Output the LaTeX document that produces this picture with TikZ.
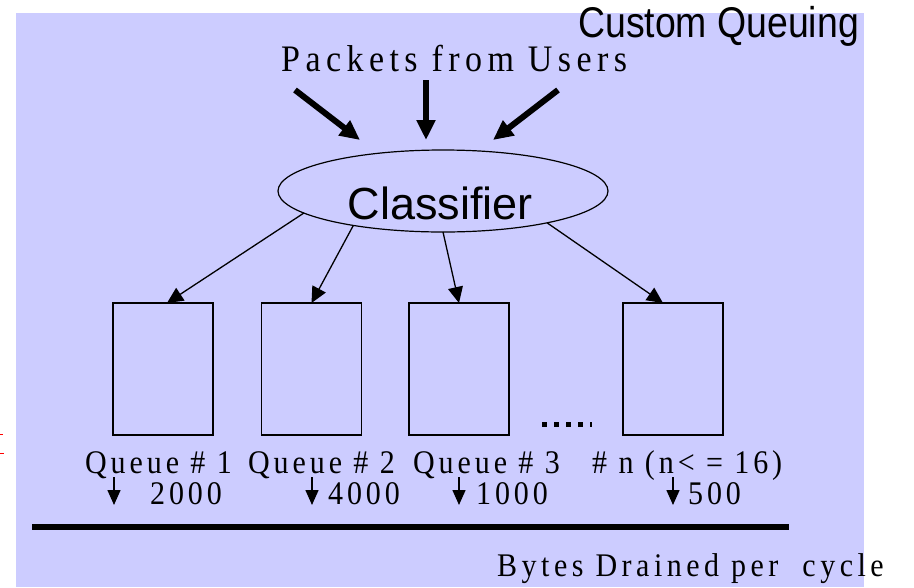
\documentclass[tikz,border=0pt]{standalone}
\usepackage{graphicx}
\usepackage{fontspec}
\setmainfont{Liberation Serif}
\setsansfont{Liberation Sans}
\newfontfamily\spacedserif[LetterSpace=16]{Liberation Serif}
\newfontfamily\wideserif[LetterSpace=13]{Liberation Serif}
\newfontfamily\bytesserif[LetterSpace=15]{Liberation Serif}
\usetikzlibrary{shapes.geometric,arrows.meta}
\definecolor{panel}{RGB}{204,204,255}

% serif labels are set slightly tall
\newcommand{\tallset}[1]{\scalebox{1}[1.1]{#1}}

\tikzset{
  queuebox/.style={draw, line width=1.8pt, rectangle, minimum width=100pt,
    minimum height=132pt, inner sep=0pt, outer sep=0pt},
  classnode/.style={draw, line width=1.2pt, ellipse, minimum width=330pt,
    minimum height=82pt, inner sep=0pt, outer sep=0pt},
  inflow/.style={line width=6pt, -{Triangle[length=20pt,width=18pt]}},
  route/.style={line width=1.3pt, -{Triangle[length=16pt,width=15pt]}},
  drain/.style={line width=1.5pt, -{Triangle[length=15pt,width=13pt]}},
  qlabel/.style={anchor=base west, inner sep=0pt,
    font=\wideserif\fontsize{30}{36}\selectfont},
}

\begin{document}
\begin{tikzpicture}[x=1pt,y=-1pt]
\useasboundingbox (0,0) rectangle (914,587);
\fill[panel] (16,13) rectangle (864,587);

% title and source label
\node[anchor=base west, inner sep=0pt, font=\sffamily\fontsize{43}{50}\selectfont]
  (title) at (578,37) {\scalebox{0.87}[1]{Custom Queuing}};
\node[anchor=base west, inner sep=0pt, font=\spacedserif\fontsize{34}{40}\selectfont]
  (src) at (281,71) {\tallset{Packets from Users}};

% incoming packet arrows
\coordinate (inL) at (295,90);  \coordinate (tipL) at (360,140);
\coordinate (inM) at (426,80);  \coordinate (tipM) at (426,140);
\coordinate (inR) at (558,90);  \coordinate (tipR) at (493,140);
\draw[inflow] (inL) -- (tipL);
\draw[inflow] (inM) -- (tipM);
\draw[inflow] (inR) -- (tipR);

% classifier
\node[classnode] (cls) at (443,191) {};
\node[anchor=base, inner sep=0pt, font=\sffamily\fontsize{45}{52}\selectfont]
  (clstxt) at (440.5,219) {Classifier};

% queues
\node[queuebox] (q1) at (163,369) {};
\node[queuebox] (q2) at (311.5,369) {};
\node[queuebox] (q3) at (459,369) {};
\node[queuebox] (q4) at (673,369) {};

\draw[route] (cls.189) -- ([xshift=4pt]q1.north);
\draw[route] (cls.201) -- (q2.north);
\draw[route] (cls.270) -- (q3.north);
\draw[route] (cls.343) -- ([xshift=-10pt]q4.north);

% ellipsis between the third and last queue
\coordinate (dotsA) at (542,424); \coordinate (dotsB) at (592,424);
\draw[line width=5pt, dash pattern=on 4.5pt off 7.5pt] (dotsA) -- (dotsB);

% queue names
\node[qlabel] (n1) at (85,473) {\tallset{Queue \# 1}};
\node[qlabel] (n2) at (248,473) {\tallset{Queue \# 2}};
\node[qlabel] (n3) at (413,473) {\tallset{Queue \# 3}};
\node[qlabel] (n4) at (592,473) {\tallset{\# n (n< = 16)}};

% drain arrows and byte counts
\coordinate (d1a) at (114,477); \coordinate (d1b) at (114,505);
\coordinate (d2a) at (312,477); \coordinate (d2b) at (312,505);
\coordinate (d3a) at (459,477); \coordinate (d3b) at (459,505);
\coordinate (d4a) at (673,477); \coordinate (d4b) at (673,505);
\draw[drain] (d1a) -- (d1b);
\draw[drain] (d2a) -- (d2b);
\draw[drain] (d3a) -- (d3b);
\draw[drain] (d4a) -- (d4b);
\node[qlabel] (b1) at (150,504) {\tallset{2000}};
\node[qlabel] (b2) at (328,504) {\tallset{4000}};
\node[qlabel] (b3) at (476,504) {\tallset{1000}};
\node[qlabel] (b4) at (688,504) {\tallset{500}};

% output link
\coordinate (linkA) at (32,526.5); \coordinate (linkB) at (789,526.5);
\draw[line width=6pt] (linkA) -- (linkB);
\node[anchor=base west, inner sep=0pt, font=\bytesserif\fontsize{30}{36}\selectfont]
  (bytes) at (497,576) {\tallset{Bytes Drained per\ \ cycle}};

% red marks at the left edge
\coordinate (r1a) at (0,434); \coordinate (r1b) at (3,434);
\coordinate (r2a) at (0,453); \coordinate (r2b) at (4,453);
\draw[red, line width=1pt] (r1a) -- (r1b);
\draw[red, line width=1pt] (r2a) -- (r2b);
\end{tikzpicture}
\end{document}
